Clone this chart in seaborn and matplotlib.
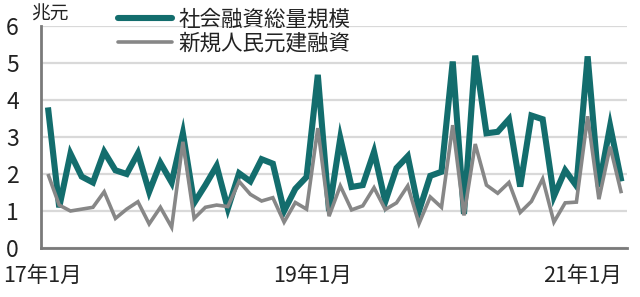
import numpy as np
import pandas as pd
import matplotlib
matplotlib.use("Agg")
import matplotlib.pyplot as plt
import seaborn as sns

# ---- data (trillion yuan), monthly Jan 2017 .. Apr 2021 ----
tsf = [3.8, 1.1, 2.55, 1.93, 1.77, 2.6, 2.1, 2.0, 2.56, 1.52, 2.3, 1.77,
       3.1, 1.22, 1.7, 2.22, 1.07, 2.02, 1.8, 2.4, 2.28, 1.0, 1.6, 1.92,
       4.68, 1.0, 2.97, 1.65, 1.7, 2.6, 1.25, 2.16, 2.48, 1.0, 1.95, 2.06,
       5.04, 0.92, 5.2, 3.1, 3.14, 3.48, 1.66, 3.58, 3.48, 1.4, 2.1, 1.68,
       5.18, 1.65, 3.3, 1.8]
loans = [2.0, 1.16, 1.0, 1.05, 1.1, 1.52, 0.8, 1.05, 1.25, 0.65, 1.1, 0.56,
         2.87, 0.8, 1.1, 1.16, 1.12, 1.8, 1.45, 1.27, 1.36, 0.7, 1.23, 1.05,
         3.24, 0.86, 1.68, 1.03, 1.14, 1.63, 1.04, 1.22, 1.68, 0.66, 1.38, 1.1,
         3.32, 0.88, 2.81, 1.7, 1.48, 1.77, 0.96, 1.26, 1.87, 0.7, 1.22, 1.24,
         3.56, 1.32, 2.74, 1.48]
series_names = ["社会融資総量規模", "新規人民元建融資"]
tick_labels = ["17年1月", "19年1月", "21年1月"]
tick_months = [0, 24, 48]
y_ticks = [0, 1, 2, 3, 4, 5, 6]
unit_label = "兆元"

month_idx = np.arange(len(tsf))
df = pd.DataFrame({
    "m": np.concatenate([month_idx, month_idx]),
    "v": tsf + loans,
    "s": [series_names[0]] * len(tsf) + [series_names[1]] * len(loans),
})

sns.set_theme(style="white")
plt.rcParams["font.family"] = ["Noto Sans CJK JP", "DejaVu Sans"]

TEAL = "#136d6d"
GRAY = "#878787"
AX = "#7a7a7a"
TXT = "#222222"

fig = plt.figure(figsize=(6.4, 2.97), dpi=100)
ax = fig.add_axes([41 / 640, 1 - 248 / 297, (627 - 41) / 640, (248 - 26) / 297])

ax.yaxis.grid(True, color="#d9d9d9", linewidth=1.6)
ax.set_axisbelow(True)

sns.lineplot(data=df[df.s == series_names[0]], x="m", y="v", color=TEAL,
             linewidth=4.4, ax=ax, label=series_names[0],
             solid_joinstyle="miter", solid_capstyle="butt")
sns.lineplot(data=df[df.s == series_names[1]], x="m", y="v", color=GRAY,
             linewidth=2.6, ax=ax, label=series_names[1],
             solid_joinstyle="miter", solid_capstyle="butt")

ax.set_xlim(-0.62, 51.5)
ax.set_ylim(0, 6)
ax.set_xlabel("")
ax.set_ylabel("")

for side in ["top", "right"]:
    ax.spines[side].set_visible(False)
for side in ["left", "bottom"]:
    ax.spines[side].set_color(AX)
    ax.spines[side].set_linewidth(2.0)

ax.set_yticks(y_ticks)
ax.set_yticklabels([str(t) for t in y_ticks])
ax.set_xticks([m - 0.5 for m in tick_months])
ax.set_xticklabels(tick_labels)
ax.tick_params(axis="y", direction="in", length=6, width=1.8, color=AX,
               pad=16, labelsize=16.5, labelcolor=TXT)
ax.tick_params(axis="x", direction="in", length=4, width=1.8, color=AX,
               pad=12, labelsize=15.5, labelcolor=TXT)

fig.text(50 / 640, 1 - 14 / 297, unit_label, ha="center", va="center",
         fontsize=13.5, color=TXT)

leg = ax.legend(loc="upper left", bbox_to_anchor=(118 / 640, 1 - 9 / 297),
                bbox_transform=fig.transFigure, frameon=False, fontsize=15.5,
                handlelength=2.5, handletextpad=0.3, labelspacing=0.05,
                borderpad=0, borderaxespad=0)
for t in leg.get_texts():
    t.set_color(TXT)
for h in leg.get_lines():
    h.set_solid_capstyle("round")

fig.savefig("out.png", dpi=100)
